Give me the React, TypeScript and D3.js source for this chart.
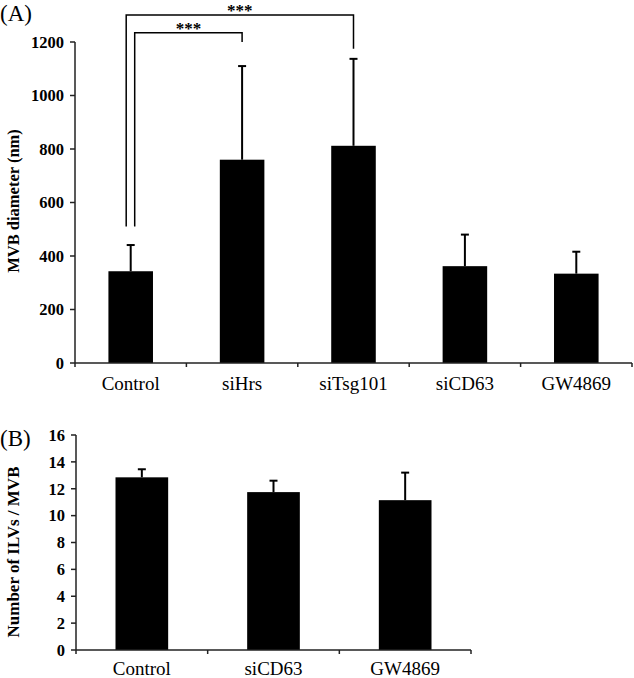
import React from "react";
import * as d3 from "d3";

const categoriesA = ["Control", "siHrs", "siTsg101", "siCD63", "GW4869"];
const meansA = [343, 760, 812, 362, 334];
const errorsA = [98, 350, 325, 118, 82];
const ticksA = [0, 200, 400, 600, 800, 1000, 1200];

const categoriesB = ["Control", "siCD63", "GW4869"];
const meansB = [12.85, 11.75, 11.15];
const errorsB = [0.6, 0.85, 2.05];
const ticksB = [0, 2, 4, 6, 8, 10, 12, 14, 16];

const comparisons = [
  { from: 0, to: 1, label: "***" },
  { from: 0, to: 2, label: "***" },
];

const FONT = "'Liberation Serif', 'Times New Roman', serif";

function Panel({ cats, means, errs, ticks, yMax, x0, x1, yBottom, yTopPx, yLabel, yLabelX, yLabelY, yLabelSize, panelLabel, panelLabelY, xLabelY, barFrac, children }: any) {
  const x = d3.scaleBand().domain(cats).range([x0, x1]).paddingInner(0).paddingOuter(0);
  const y = d3.scaleLinear().domain([0, yMax]).range([yBottom, yTopPx]);
  const bw = x.bandwidth() * barFrac;
  const boundaries = [x0, ...cats.map((c: string) => (x(c) as number) + x.bandwidth())];
  return (
    <g>
      <text x={0} y={panelLabelY} fontFamily={FONT} fontSize={23} fill="#000">{panelLabel}</text>
      {cats.map((c: string, i: number) => {
        const cx = (x(c) as number) + x.bandwidth() / 2;
        return (
          <g key={c}>
            <line x1={cx} x2={cx} y1={y(means[i])} y2={y(means[i] + errs[i])} stroke="#000" strokeWidth={2} />
            <line x1={cx - 4} x2={cx + 4} y1={y(means[i] + errs[i])} y2={y(means[i] + errs[i])} stroke="#000" strokeWidth={2} />
            <rect x={cx - bw / 2} y={y(means[i])} width={bw} height={yBottom - y(means[i])} fill="#000" />
            <text x={cx} y={xLabelY} textAnchor="middle" fontFamily={FONT} fontSize={19} fill="#000">{c}</text>
          </g>
        );
      })}
      <line x1={x0} x2={x0} y1={yTopPx} y2={yBottom} stroke="#222" strokeWidth={1.5} />
      <line x1={x0} x2={x1} y1={yBottom} y2={yBottom} stroke="#222" strokeWidth={1.5} />
      {boundaries.map((b: number, i: number) => (
        <line key={i} x1={b} x2={b} y1={yBottom} y2={yBottom + 4} stroke="#222" strokeWidth={1.5} />
      ))}
      {ticks.map((t: number) => (
        <g key={t}>
          <line x1={x0 - 5} x2={x0} y1={y(t)} y2={y(t)} stroke="#222" strokeWidth={1.5} />
          <text x={x0 - 11} y={y(t)} dy="0.35em" textAnchor="end" fontFamily={FONT} fontWeight="bold" fontSize={16.5} fill="#000">{t}</text>
        </g>
      ))}
      <text transform={`translate(${yLabelX},${yLabelY}) rotate(-90)`} textAnchor="middle" fontFamily={FONT} fontWeight="bold" fontSize={yLabelSize} fill="#000">{yLabel}</text>
      {children && children(x, y)}
    </g>
  );
}

export default function App() {
  return (
    <svg width={634} height={678} style={{ position: "absolute", left: 0, top: 0, background: "#fff" }}>
      <rect width={634} height={678} fill="#fff" />
      <Panel cats={categoriesA} means={meansA} errs={errorsA} ticks={ticksA} yMax={1200}
        x0={75} x1={632} yBottom={363} yTopPx={42}
        yLabel="MVB diameter (nm)" yLabelX={19} yLabelY={201} yLabelSize={16.5}
        panelLabel="(A)" panelLabelY={21} xLabelY={390} barFrac={0.4}>
        {(x: any, y: any) => {
          const levels = [32.7, 15];
          const leftOff = [4, -4.5];
          const rightGap = [24, 10];
          return comparisons.map((cmp, k) => {
            const xa = x(categoriesA[cmp.from]) + x.bandwidth() / 2 + leftOff[k];
            const xb = x(categoriesA[cmp.to]) + x.bandwidth() / 2;
            const yl = levels[k];
            const footA = y(510);
            const footB = y(meansA[cmp.to] + errorsA[cmp.to]) - rightGap[k];
            return (
              <g key={k}>
                <path d={`M${xa},${footA}V${yl}H${xb}V${footB}`} fill="none" stroke="#000" strokeWidth={1.5} />
                <text x={(xa + xb) / 2} y={yl + 1} textAnchor="middle" fontFamily={FONT} fontWeight="bold" fontSize={17} fill="#000">{cmp.label}</text>
              </g>
            );
          });
        }}
      </Panel>
      <Panel cats={categoriesB} means={meansB} errs={errorsB} ticks={ticksB} yMax={16}
        x0={76} x1={471} yBottom={650} yTopPx={435}
        yLabel="Number of ILVs / MVB" yLabelX={19} yLabelY={552} yLabelSize={17}
        panelLabel="(B)" panelLabelY={446} xLabelY={675} barFrac={0.4} />
    </svg>
  );
}
